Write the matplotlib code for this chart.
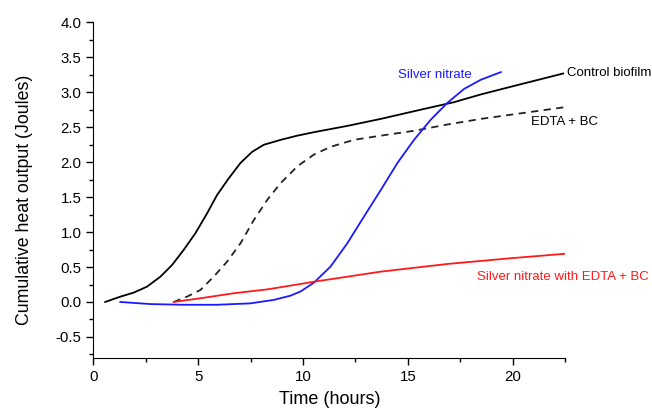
import numpy as np
import matplotlib
matplotlib.use('Agg')
from matplotlib import pyplot as plt
from matplotlib.ticker import MultipleLocator

plt.rcParams['font.family'] = ['Liberation Sans', 'DejaVu Sans']
plt.rcParams['axes.unicode_minus'] = False

# Control biofilm (solid black)
control_t = [0.57, 1.29, 1.92, 2.56, 3.20, 3.76, 4.31, 4.87, 5.43, 5.90, 6.46, 7.02, 7.58, 8.13,
             8.93, 9.72, 10.52, 12.11, 13.70, 15.29, 17.2, 18.47, 19.9, 22.4]
control_q = [0.0, 0.076, 0.133, 0.219, 0.362, 0.53, 0.745, 0.984, 1.27, 1.53, 1.77, 1.99, 2.15, 2.25,
             2.32, 2.38, 2.43, 2.52, 2.62, 2.73, 2.86, 2.97, 3.08, 3.27]

# EDTA + BC (dashed black)
edta_t = [3.83, 4.47, 5.11, 5.74, 6.38, 7.02, 7.65, 8.29, 8.93, 9.56, 9.72, 10.52, 11.31, 12.42,
          13.70, 15.29, 16.88, 18.47, 19.9, 22.53]
edta_q = [0.0, 0.076, 0.172, 0.362, 0.577, 0.84, 1.17, 1.46, 1.70, 1.89, 1.94, 2.11, 2.22, 2.32,
          2.38, 2.45, 2.54, 2.62, 2.68, 2.79]

# Silver nitrate (blue)
silver_t = [1.29, 2.72, 4.31, 5.90, 7.49, 8.61, 9.40, 9.88, 10.52, 11.31, 12.11, 12.90, 13.70,
            14.50, 15.29, 16.09, 16.88, 17.68, 18.47, 19.43]
silver_q = [0.0, -0.03, -0.04, -0.04, -0.02, 0.03, 0.09, 0.15, 0.277, 0.506, 0.84, 1.22, 1.60,
            1.99, 2.32, 2.61, 2.85, 3.05, 3.18, 3.29]

# Silver nitrate with EDTA + BC (red)
mix_t = [3.83, 5.11, 6.70, 8.29, 9.72, 10.52, 13.70, 16.88, 19.9, 22.5]
mix_q = [0.0, 0.053, 0.125, 0.18, 0.25, 0.29, 0.434, 0.544, 0.626, 0.69]

fig = plt.figure(figsize=(6.52, 4.09), dpi=100)
ax = fig.add_axes([0.143, 0.125, 0.724, 0.82])

ax.plot(control_t, control_q, color='black', lw=1.3, solid_joinstyle='round')
ax.plot(edta_t, edta_q, color='#222222', lw=1.3, dashes=(4, 3))
ax.plot(silver_t, silver_q, color='#1a1aff', lw=1.3, solid_joinstyle='round')
ax.plot(mix_t, mix_q, color='#ff1a1a', lw=1.3, solid_joinstyle='round')

ax.text(16.3, 3.25, 'Silver nitrate', color='#1a1aff', fontsize=9.5, ha='center', va='center')
ax.text(22.6, 3.28, 'Control biofilm', color='black', fontsize=9.5, ha='left', va='center', clip_on=False)
ax.text(20.86, 2.57, 'EDTA + BC', color='black', fontsize=9.5, ha='left', va='center')
ax.text(18.28, 0.36, 'Silver nitrate with EDTA + BC', color='#ff1a1a', fontsize=9.5,
        ha='left', va='center', clip_on=False)

ax.set_xlim(0, 22.5)
ax.set_ylim(-0.8, 4.0)
ax.xaxis.set_major_locator(MultipleLocator(5))
ax.xaxis.set_minor_locator(MultipleLocator(2.5))
ax.yaxis.set_major_locator(MultipleLocator(0.5))
ax.yaxis.set_minor_locator(MultipleLocator(0.25))
ax.yaxis.set_major_formatter(plt.FuncFormatter(lambda v, p: '%.1f' % v))

ax.spines['top'].set_visible(False)
ax.spines['right'].set_visible(False)
ax.tick_params(which='major', direction='out', length=5, width=1, labelsize=10.8)
ax.tick_params(which='minor', direction='out', length=3, width=1)

ax.set_xlabel('Time (hours)', fontsize=13, labelpad=5)
ax.set_ylabel('Cumulative heat output (Joules)', fontsize=12.8, labelpad=16)
ax.yaxis.label.set_y(0.471)

fig.savefig('out.png', dpi=100)
